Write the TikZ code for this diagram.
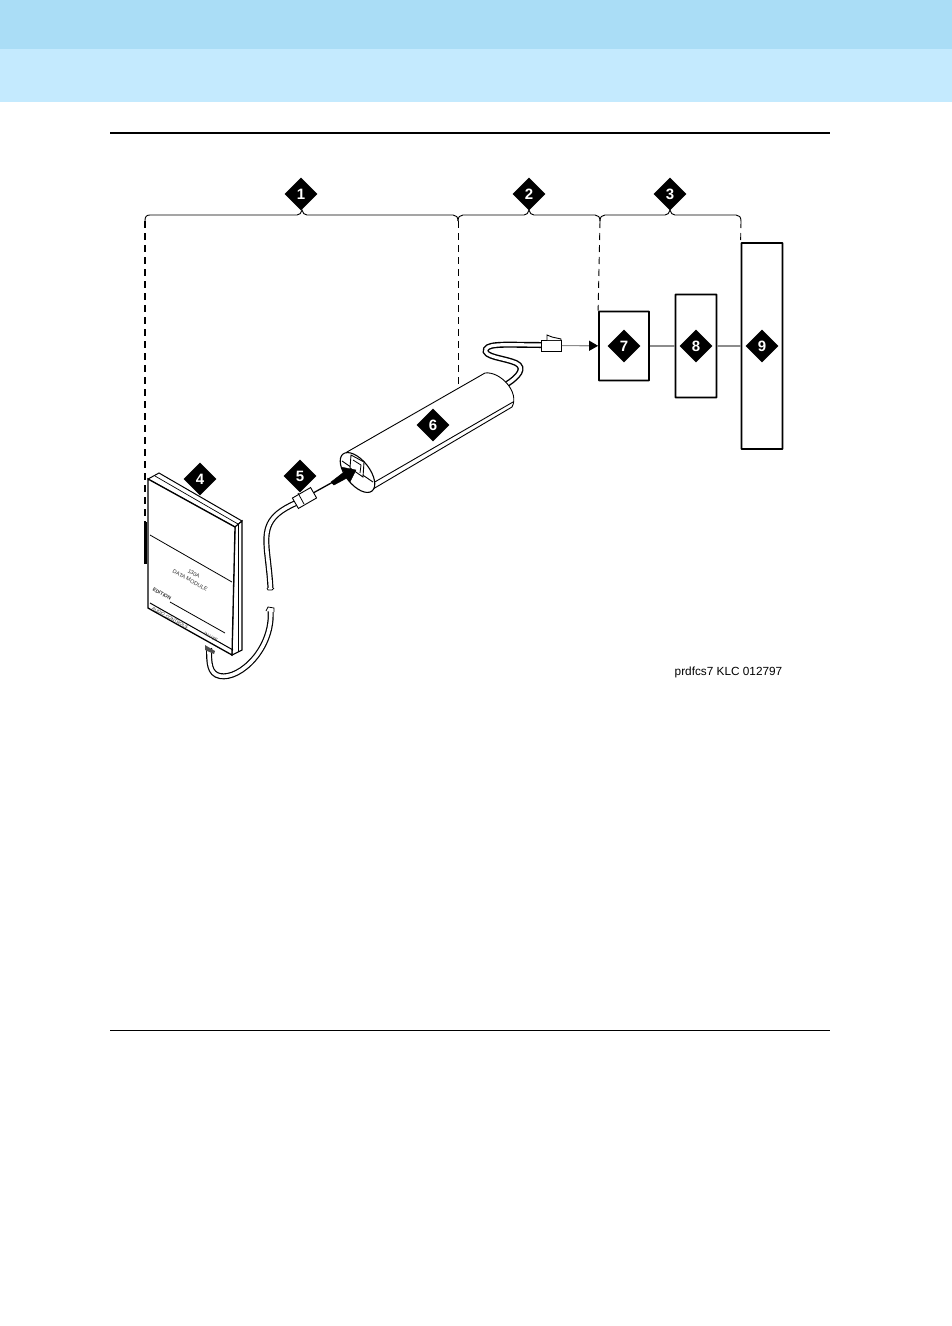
\documentclass[tikz,border=0pt]{standalone}
\usepackage{fontspec}
\setmainfont{Liberation Sans}
\usetikzlibrary{positioning,arrows.meta,shapes.geometric}
\definecolor{BandDark}{RGB}{170,221,246}
\definecolor{BandLite}{RGB}{196,234,254}
\definecolor{WireGrey}{RGB}{140,140,140}
\begin{document}
\begin{tikzpicture}[x=1pt,y=-1pt,
callout/.style={diamond, fill=black, text=white, inner sep=0pt, minimum size=33pt,
font=\fontsize{15}{15}\selectfont\bfseries},
unitbox/.style={draw=black, line width=1.8pt, fill=white, rounded corners=0.5pt, minimum width=50pt, inner sep=0pt},
brace/.style={draw=black, line width=0.9pt},
leader/.style={draw=black, line width=0.9pt, dash pattern=on 7pt off 5pt},
wire/.style={draw=WireGrey, line width=1.1pt},
cableout/.style={draw=black, line width=6pt, line cap=round},
cablein/.style={draw=white, line width=3.6pt, line cap=butt},
plugbox/.style={draw=black, line width=0.9pt, fill=white, inner sep=0pt},
tinytext/.style={font=\fontsize{5.5}{7.5}\selectfont, text=black!80, rotate=-29, align=center, inner sep=0pt}]
\useasboundingbox (0,0) rectangle (952,1326);
% page header and rules
\fill[BandDark] (0,0) rectangle (952,49);
\fill[BandLite] (0,49) rectangle (952,102);
\fill[black] (110,132) rectangle (830,134);
\fill[black] (110,1030) rectangle (830,1031);
% braces
\coordinate (b0) at (145,221);
\coordinate (b1) at (458,221);
\coordinate (b2) at (600,221);
\coordinate (b3) at (741,221);
\draw[brace] (b0) .. controls (145,217) and (146,215) .. (150,215) -- (297,215)
.. controls (300,215) and (301,213) .. (302,210) .. controls (303,213) and (304,215) .. (307,215)
-- (453,215) .. controls (456,215) and (458,217) .. (b1);
\draw[brace] (b1) .. controls (458,217) and (460,215) .. (463,215) -- (524,215)
.. controls (527,215) and (528,213) .. (529,210) .. controls (530,213) and (531,215) .. (534,215)
-- (595,215) .. controls (598,215) and (600,217) .. (b2);
\draw[brace] (b2) .. controls (600,217) and (602,215) .. (605,215) -- (665,215)
.. controls (668,215) and (669,213) .. (670,210) .. controls (671,213) and (672,215) .. (675,215)
-- (736,215) .. controls (739,215) and (741,217) .. (b3);
% boxes
\node[unitbox, minimum width=50pt, minimum height=69pt] (unit7) at (624,346) {};
\node[unitbox, minimum width=41pt, minimum height=103pt] (unit8) at (696,346) {};
\node[unitbox, minimum width=41pt, minimum height=206pt] (unit9) at (762,346) {};
\draw[wire] (unit7)--(unit8);
\draw[wire] (unit8)--(unit9);
% leaders
\coordinate (lead6) at (458,385);
\coordinate (lead4) at (145,522);
\draw[leader, line width=1.7pt] (b0)--(lead4);
\draw[leader] (b1)--(lead6);
\draw[leader] (b2)--(unit7.north west);
\draw[leader] (b3)--(unit9.north west);
% far end cable and plug
\coordinate (cab6a) at (507,384);
\coordinate (cab6b) at (541,345);
\draw[cableout, line cap=butt] (cab6a) .. controls (518,377) and (526,368) .. (516,363)
.. controls (505,358) and (482,357) .. (486,349) .. controls (489,343) and (510,345) .. (cab6b);
\draw[cablein, line width=3.2pt] (cab6a) .. controls (518,377) and (526,368) .. (516,363)
.. controls (505,358) and (482,357) .. (486,349) .. controls (489,343) and (510,345) .. (cab6b);
\node[plugbox, minimum width=20pt, minimum height=11pt] (plug6) at (551.5,345.5) {};
\draw[line width=0.9pt, fill=white] (547,340) -- (547,335) -- (552,337) -- (561,339) -- (561,340);
\draw[wire, -{Triangle[length=9pt,width=10pt,black]}] (plug6)--(unit7);
% adapter body
\filldraw[fill=white, draw=black, line width=0.9pt] (347,452) -- (485,373)
.. controls (500,371) and (520,392) .. (512,407) -- (373,489) -- cycle;
\draw[line width=0.9pt] (373,483) -- (513,402);
\node[draw=black, line width=1.1pt, fill=white, ellipse, minimum width=47pt, minimum height=24pt, inner sep=0pt, rotate=-52] (jack) at (357.5,472.5) {};
\draw[line width=0.9pt] (342,461) -- (373,482);
\filldraw[fill=white, draw=black, line width=0.9pt] (351,455) -- (364,462) -- (363,477) -- (350,468) -- cycle;
\draw[line width=0.8pt] (353,460) -- (361,465) -- (360,473);
% device
\coordinate (devA) at (148,479);
\coordinate (devB) at (159,473);
\coordinate (devC) at (242,521);
\coordinate (devD) at (235,527);
\coordinate (devE) at (232,655);
\coordinate (devF) at (148,608);
\coordinate (devG) at (242,650);
\fill[black] (144,522) rectangle (147,564);
% cable from device
\coordinate (cab5c) at (270.5,609);
\coordinate (cab5d) at (209,648);
\draw[cableout, line cap=butt] (cab5c) .. controls (274,648) and (240,680) .. (220,676) .. controls (209,674) and (209,662) .. (cab5d);
\draw[cablein] (cab5c) .. controls (274,648) and (240,680) .. (220,676) .. controls (209,674) and (209,662) .. (cab5d);
\draw[line width=0.8pt, fill=white] (266,611) -- (268,607) -- (274,608) -- (274,612);
\filldraw[fill=white, draw=black, line width=1pt] (devA) -- (devB) -- (devC) -- (devD) -- cycle;
\draw[line width=0.7pt] (155,476) -- (238,524);
\filldraw[fill=white, draw=black, line width=1.1pt] (devD) -- (devC) -- (devG) -- (devE) -- cycle;
\draw[line width=0.8pt] (238.5,524) -- (238.5,652);
\filldraw[fill=white, draw=black, line width=1.3pt] (devA) -- (devD) -- (devE) -- (devF) -- cycle;
\draw[line width=1pt] (150,603) -- (233,650);
\draw[line width=0.8pt] (150,535) -- (232,582);
\draw[line width=0.8pt] (170,602) -- (225,633);
\fill[black!70] (205,645) -- (215,651) -- (214,654) -- (205,650) -- cycle;
\node[tinytext] (lab130) at (192,577) {130A\\DATA MODULE};
\node[tinytext, font=\fontsize{5}{6}\selectfont\bfseries] (labed) at (162,594) {EDITION};
\node[tinytext, font=\fontsize{4.5}{5}\selectfont] (labau) at (170,618) {AUDIO CONTROLS};
\node[tinytext, font=\fontsize{4.5}{5}\selectfont] (labin) at (211,637) {IN USE};
% plug side cable
\coordinate (cab5a) at (296,503);
\coordinate (cab5b) at (270.5,589);
\draw[cableout, line cap=butt] (cab5a) .. controls (266,516) and (265,530) .. (267,552) .. controls (269,570) and (270,578) .. (cab5b);
\draw[cablein] (cab5a) .. controls (266,516) and (265,530) .. (267,552) .. controls (269,570) and (270,578) .. (cab5b);
\draw[line width=0.8pt, fill=white] (267,588) -- (268,590) -- (272,590) -- (274,588);
\node[plugbox, minimum width=21pt, minimum height=12pt, rotate=30] (plug5) at (304.5,498) {};
\draw[line width=0.8pt] (298,493) -- (304,504);
\coordinate (jackin) at (356,470);
\draw[line width=1.3pt] (plug5.east)--(342,477);
\draw[fill=black, draw=black] (jackin) -- (341,467) -- (344,472) -- (331,482) -- (334,485) -- (347,478) -- (350,482) -- cycle;
% callouts
\node[callout] (c1) at (301,194) {1};
\node[callout] (c2) at (529,194) {2};
\node[callout] (c3) at (670,194) {3};
\node[callout] (c4) at (200,479) {4};
\node[callout] (c5) at (300,476) {5};
\node[callout] (c6) at (433,425) {6};
\node[callout] (c7) at (624,346) {7};
\node[callout] (c8) at (696,346) {8};
\node[callout] (c9) at (762,346) {9};
\node[font=\fontsize{11.8}{13}\selectfont, inner sep=0pt] (figcode) at (728.5,672.5) {prdfcs7 KLC 012797};
\end{tikzpicture}
\end{document}
